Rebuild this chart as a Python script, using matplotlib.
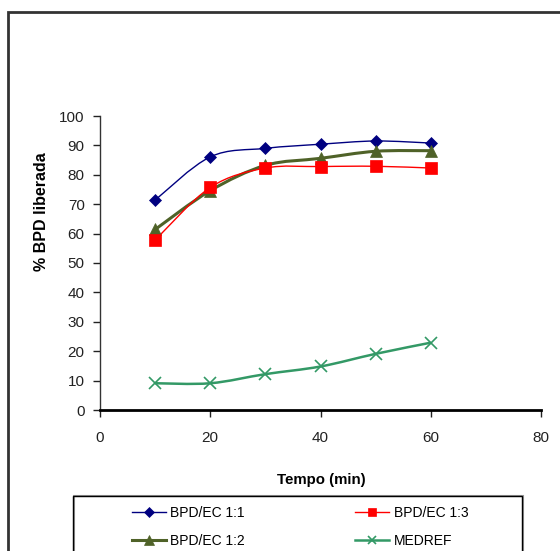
import matplotlib
matplotlib.use("Agg")
import matplotlib.pyplot as plt
import numpy as np
from matplotlib.path import Path
from matplotlib.patches import PathPatch, Rectangle
from matplotlib.lines import Line2D

plt.rcParams['font.family'] = ['Liberation Sans', 'DejaVu Sans']

# release profiles (% BPD released vs time in minutes)
tempo = [10, 20, 30, 40, 50, 60]
bpd_ec_11 = [71.4, 86.1, 89.0, 90.4, 91.5, 90.8]
bpd_ec_13 = [57.8, 75.7, 82.3, 82.8, 82.9, 82.3]
bpd_ec_12 = [61.4, 74.6, 83.2, 85.6, 88.0, 88.2]
medref = [9.1, 9.1, 12.2, 14.8, 19.1, 22.9]

x_ticks = [0, 20, 40, 60, 80]
y_ticks = list(range(0, 101, 10))


def smooth_path(x, y):
    # bezier through every point, like a spreadsheet "smoothed line"
    p = np.column_stack([x, y]).astype(float)
    ext = np.vstack([p[0], p, p[-1]])
    verts = [p[0]]
    codes = [Path.MOVETO]
    for i in range(len(p) - 1):
        c1 = ext[i + 1] + (ext[i + 2] - ext[i]) / 6.0
        c2 = ext[i + 2] - (ext[i + 3] - ext[i + 1]) / 6.0
        verts += [c1, c2, ext[i + 2]]
        codes += [Path.CURVE4] * 3
    return Path(verts, codes)


series = [
    (bpd_ec_11, 'BPD/EC 1:1', '#000080', 1.0, 'D', 6.5),
    (bpd_ec_12, 'BPD/EC 1:2', '#4F6228', 2.2, '^', 9),
    (bpd_ec_13, 'BPD/EC 1:3', '#FF0000', 1.0, 's', 8),
    (medref, 'MEDREF', '#339966', 1.8, 'x', 8),
]

fig = plt.figure(figsize=(5.6, 5.51), dpi=100)
ax = fig.add_axes([100 / 560, 1 - 410 / 551, 441 / 560, 294 / 551])

handles = []
for vals, name, col, lw, mk, ms in series:
    ax.add_patch(PathPatch(smooth_path(tempo, vals), fill=False, edgecolor=col,
                           lw=lw, zorder=2))
    mew = 1.2 if mk == 'x' else 0.5
    ax.plot(tempo, vals, ls='none', marker=mk, ms=ms, color=col, mec=col,
            mew=mew, zorder=3)
    handles.append(Line2D([], [], color=col, lw=lw, marker=mk,
                          ms=ms * 0.75, mec=col, mew=mew, label=name))

ax.set_xlim(0, 80)
ax.set_ylim(0, 100)
ax.set_xticks(x_ticks)
ax.set_yticks(y_ticks)
ax.spines['top'].set_visible(False)
ax.spines['right'].set_visible(False)
ax.spines['left'].set_color('#333333')
ax.spines['left'].set_linewidth(1.0)
ax.spines['bottom'].set_linewidth(2.0)
ax.tick_params(axis='both', direction='out', length=5, width=1, labelsize=11,
               colors='#222222', pad=6)
ax.tick_params(axis='x', pad=10)

fig.text(321 / 560, 1 - 480 / 551, 'Tempo (min)', ha='center', va='center',
         fontsize=10.8, fontweight='bold')
fig.text(42 / 560, 1 - 212 / 551, '% BPD liberada', ha='center', va='center',
         rotation=90, fontsize=11.5, fontweight='bold')

# outer chart border
fig.patches.append(Rectangle((8 / 560, -0.1), 1.2, 1.1 - 12 / 551,
                             transform=fig.transFigure, fill=False,
                             edgecolor='#333333', lw=2.0))

# legend frame
fig.patches.append(Rectangle((74 / 560, -0.1), 449 / 560, 0.1 + 1 - 496 / 551,
                             transform=fig.transFigure, fill=False,
                             edgecolor='#999999', lw=1.5))
fig.patches.append(Rectangle((72.5 / 560, -0.1), 449 / 560, 0.1 + 1 - 496 / 551,
                             transform=fig.transFigure, fill=False,
                             edgecolor='black', lw=1.0))

fig.legend(handles=handles, ncol=2, loc='upper left',
           bbox_to_anchor=(121 / 560, 1 - 495 / 551), frameon=False,
           fontsize=10, handlelength=2.45, handletextpad=0.3,
           columnspacing=7.95, labelspacing=0.98, borderpad=0.3)

fig.savefig('out.png', dpi=100)
